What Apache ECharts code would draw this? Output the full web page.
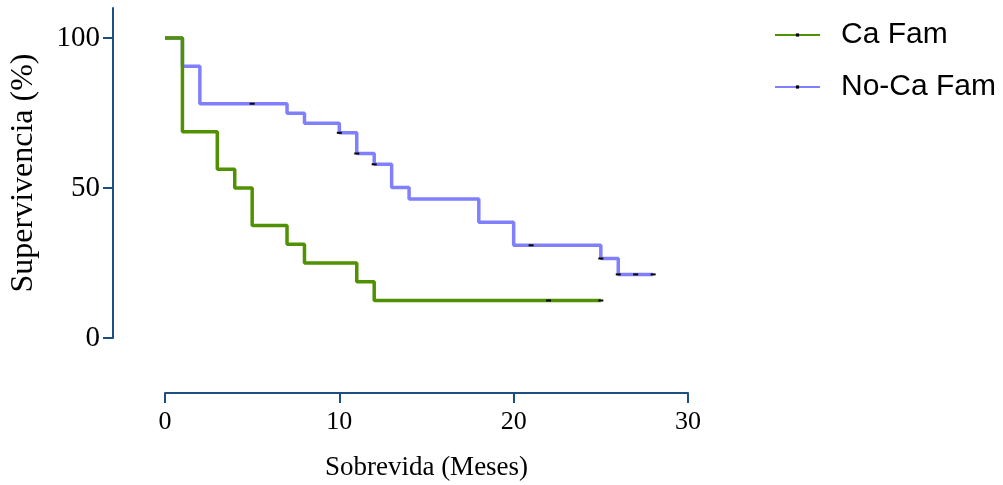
<!DOCTYPE html>
<html>
<head>
<meta charset="utf-8">
<script src="https://cdn.jsdelivr.net/npm/echarts@6/dist/echarts.min.js"></script>
<style>
  html, body { margin: 0; padding: 0; background: #ffffff; }
  #chart { width: 1003px; height: 485px; }
</style>
</head>
<body>
<div id="chart"></div>
<script>
// Kaplan-Meier survival estimates (months, % surviving) for each group
const famTimes = [0, 1, 3, 4, 5, 7, 8, 11, 12, 22, 25];
const famSurv = [100, 68.75, 56.25, 50, 37.5, 31.25, 25, 18.75, 12.5, 12.5, 12.5];
const famCensored = [0, 0, 0, 0, 0, 0, 0, 0, 0, 1, 1];

const noFamTimes = [0, 1, 2, 5, 7, 8, 10, 11, 12, 13, 14, 18, 20, 21, 25, 26, 27, 28];
const noFamSurv = [100, 90.6, 78.1, 78.1, 74.9, 71.6, 68.4, 61.5, 57.9, 50.2, 46.3, 38.6, 30.9, 30.9, 26.5, 21.2, 21.2, 21.2];
const noFamCensored = [0, 0, 0, 1, 0, 0, 1, 1, 1, 0, 0, 0, 0, 1, 1, 1, 1, 1];

const seriesNames = ['Ca Fam', 'No-Ca Fam'];
const xTicks = [0, 10, 20, 30];
const yTicks = [0, 50, 100];

// censored observations get a small tick mark on the curve
function kmData(times, surv, censored) {
  return times.map((t, i) => ({
    value: [t, surv[i]],
    symbol: censored[i] ? 'rect' : 'none'
  }));
}

const axisColor = '#1b4f82';
const serif = '"Liberation Serif", "DejaVu Serif", serif';

const chart = echarts.init(document.getElementById('chart'), null, { renderer: 'canvas' });
chart.setOption({
  animation: false,
  backgroundColor: '#ffffff',
  grid: { left: 165, right: 315, top: 8, bottom: 147, containLabel: false, outerBoundsMode: 'none' },
  legend: {
    orient: 'vertical',
    left: 769,
    top: 15,
    padding: 5,
    itemWidth: 45,
    itemHeight: 4,
    itemGap: 22,
    textStyle: { fontFamily: '"Liberation Sans", Arial, sans-serif', fontSize: 30, color: '#000', padding: [0, 0, 0, 16] },
    data: seriesNames
  },
  xAxis: {
    type: 'value',
    min: 0,
    max: 30,
    interval: 10,
    offset: 55,
    name: 'Sobrevida (Meses)',
    nameLocation: 'middle',
    nameGap: 61,
    nameTextStyle: { fontFamily: serif, fontSize: 27, color: '#000' },
    axisLine: { show: true, onZero: false, lineStyle: { color: axisColor, width: 2 } },
    axisTick: { show: true, inside: false, length: 10, lineStyle: { color: axisColor, width: 2 }, customValues: xTicks },
    axisLabel: { fontFamily: serif, fontSize: 26, color: '#000', margin: 16, customValues: xTicks },
    splitLine: { show: false }
  },
  yAxis: {
    type: 'value',
    min: 0,
    max: 110,
    interval: 50,
    offset: 52,
    name: 'Supervivencia (%)',
    nameLocation: 'middle',
    nameGap: 73,
    nameRotate: 90,
    nameTextStyle: { fontFamily: serif, fontSize: 32, color: '#000' },
    axisLine: { show: true, onZero: false, lineStyle: { color: axisColor, width: 2 } },
    axisTick: { show: true, inside: false, length: 10, lineStyle: { color: axisColor, width: 2 }, customValues: yTicks },
    axisLabel: { fontFamily: serif, fontSize: 29, color: '#000', margin: 13, customValues: yTicks },
    splitLine: { show: false }
  },
  series: [
    {
      name: seriesNames[0],
      type: 'line',
      step: 'end',
      z: 3,
      symbol: 'rect',
      symbolSize: [5, 2],
      showSymbol: true,
      itemStyle: { color: '#000' },
      lineStyle: { color: '#4f9100', width: 3.5 },
      emphasis: { disabled: true },
      data: kmData(famTimes, famSurv, famCensored)
    },
    {
      name: seriesNames[1],
      type: 'line',
      step: 'end',
      z: 2,
      symbol: 'rect',
      symbolSize: [5, 2],
      showSymbol: true,
      itemStyle: { color: '#000' },
      lineStyle: { color: '#8080ff', width: 3.5 },
      emphasis: { disabled: true },
      data: kmData(noFamTimes, noFamSurv, noFamCensored)
    }
  ]
});
</script>
</body>
</html>
